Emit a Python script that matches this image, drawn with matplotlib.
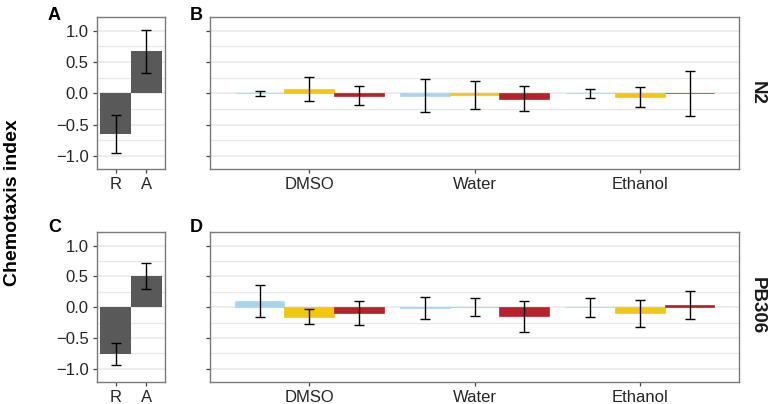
import matplotlib
matplotlib.use("Agg")
import matplotlib.pyplot as plt
import numpy as np

plt.rcParams['font.family'] = ['Liberation Sans', 'DejaVu Sans']

# ---- data ----
ctrl_labels = ["R", "A"]
ctrl_n2 = [-0.65, 0.67]
ctrl_n2_err = [0.31, 0.345]
ctrl_pb = [-0.76, 0.50]
ctrl_pb_err = [0.175, 0.21]

categories = ["DMSO", "Water", "Ethanol"]
n2_blue = [0.0, -0.035, 0.0]
n2_blue_err = [0.04, 0.265, 0.07]
n2_yellow = [0.065, -0.025, -0.06]
n2_yellow_err = [0.19, 0.225, 0.16]
n2_red = [-0.04, -0.085, 0.0]
n2_red_err = [0.15, 0.195, 0.36]

pb_blue = [0.105, -0.02, 0.0]
pb_blue_err = [0.26, 0.18, 0.155]
pb_yellow = [-0.155, 0.0, -0.1]
pb_yellow_err = [0.125, 0.15, 0.22]
pb_red = [-0.095, -0.15, 0.035]
pb_red_err = [0.2, 0.25, 0.22]

strain_labels = ["N2", "PB306"]
series_colors = ["#a7d5ee", "#f2c80a", "#b8202a"]

W, H = 769, 404
fig = plt.figure(figsize=(W / 100, H / 100), dpi=100)

def fr(x0, y0, x1, y1):
    return [x0 / W, 1 - y1 / H, (x1 - x0) / W, (y1 - y0) / H]

grid_c = "#e8e8e8"
spine_c = "#7a7a7a"
text_c = "#262626"

def style(ax, labels_y=True):
    ax.set_ylim(-1.21, 1.22)
    ax.set_yticks([-1, -0.5, 0, 0.5, 1])
    ax.set_yticks([-0.75, -0.25, 0.25, 0.75], minor=True)
    ax.grid(axis='y', which='major', color=grid_c, lw=1.1, zorder=0)
    ax.grid(axis='y', which='minor', color=grid_c, lw=0.9, zorder=0)
    ax.set_axisbelow(True)
    for s in ax.spines.values():
        s.set_color(spine_c)
        s.set_linewidth(1.0)
    ax.tick_params(axis='both', which='major', length=3, color="#444444",
                   width=0.9, labelsize=12, labelcolor=text_c, pad=3)
    ax.tick_params(axis='y', which='minor', length=0)
    if labels_y:
        ax.set_yticklabels(["\u22121.0", "\u22120.5", "0.0", "0.5", "1.0"])
    else:
        ax.set_yticklabels([])

eb_kw = dict(fmt='none', ecolor='black', elinewidth=1.0, capsize=3.3,
             capthick=1.0, zorder=3)

# control panels
for (vals, errs, box) in [(ctrl_n2, ctrl_n2_err, (97, 17, 165, 169)),
                          (ctrl_pb, ctrl_pb_err, (97, 232, 165, 381.7))]:
    ax = fig.add_axes(fr(*box))
    x = np.arange(1, len(ctrl_labels) + 1)
    ax.bar(x, vals, width=1.0, color="#595959", zorder=2)
    ax.errorbar(x, vals, yerr=errs, **eb_kw)
    ax.set_xlim(0.4, 2.6)
    ax.set_xticks(x)
    ax.set_xticklabels(ctrl_labels)
    style(ax, True)

# treatment panels
groups = [
    ([n2_blue, n2_yellow, n2_red], [n2_blue_err, n2_yellow_err, n2_red_err], (210, 17, 739.3, 169)),
    ([pb_blue, pb_yellow, pb_red], [pb_blue_err, pb_yellow_err, pb_red_err], (210, 232, 739.3, 381.7)),
]
for vals_list, err_list, box in groups:
    ax = fig.add_axes(fr(*box))
    x = np.arange(1, len(categories) + 1)
    w = 0.3
    for i, (vals, errs, c) in enumerate(zip(vals_list, err_list, series_colors)):
        xi = x + (i - 1) * w
        ax.bar(xi, vals, width=w, color=c, edgecolor=c, linewidth=0.5,
               alpha=1.0, zorder=2)
        ax.errorbar(xi, vals, yerr=errs, **eb_kw)
    ax.set_xlim(0.4, 3.6)
    ax.set_xticks(x)
    ax.set_xticklabels(categories)
    style(ax, False)

# strip labels
fig.text(757 / W, 1 - 93 / H, strain_labels[0], rotation=-90, fontsize=13.5,
         fontweight='bold', ha='center', va='center', color='#1a1a1a')
fig.text(757 / W, 1 - 306 / H, strain_labels[1], rotation=-90, fontsize=13.5,
         fontweight='bold', ha='center', va='center', color='#1a1a1a')

# panel letters
for lab, (px, py) in zip("ABCD", [(48, 7), (190, 7), (48, 219), (190, 219)]):
    fig.text(px / W, 1 - py / H, lab, fontsize=13, fontweight='bold',
             ha='left', va='top', color='black')

# y label
fig.text(13 / W, 1 - 203 / H, "Chemotaxis index", rotation=90, fontsize=14,
         fontweight='bold', ha='center', va='center', color='black')

fig.savefig("out.png", dpi=100)
